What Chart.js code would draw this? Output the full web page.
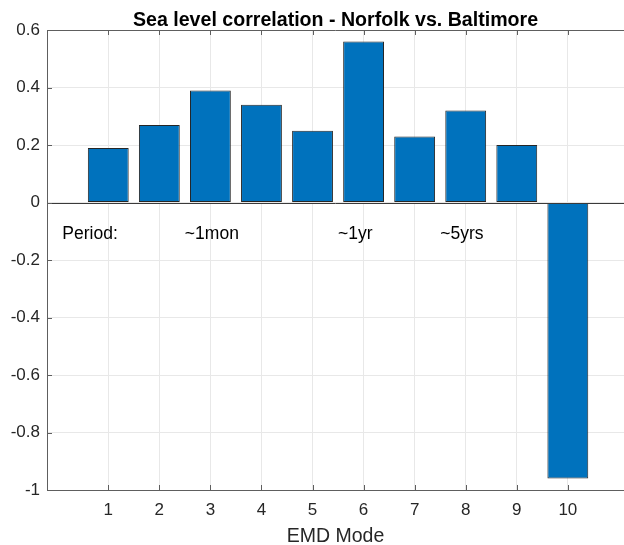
<!DOCTYPE html>
<html>
<head>
<meta charset="utf-8">
<script src="https://cdn.jsdelivr.net/npm/chart.js@4.4.1/dist/chart.umd.min.js"></script>
<style>
  html, body { margin: 0; padding: 0; background: #ffffff; }
  #wrap { width: 624px; height: 545px; }
</style>
</head>
<body>
<div id="wrap"><canvas id="c" width="624" height="545"></canvas></div>
<script>
// ---- data ----
const modes = [1, 2, 3, 4, 5, 6, 7, 8, 9, 10];
const correlation = [0.19, 0.27, 0.39, 0.34, 0.25, 0.56, 0.23, 0.32, 0.20, -0.96];
const xTicks = [1, 2, 3, 4, 5, 6, 7, 8, 9, 10];
const yTicks = [-1, -0.8, -0.6, -0.4, -0.2, 0, 0.2, 0.4, 0.6];
const yTickLabels = ['-1', '-0.8', '-0.6', '-0.4', '-0.2', '0', '0.2', '0.4', '0.6'];
const noteLabels = ['Period:', '~1mon', '~1yr', '~5yrs'];
const noteX = [0.1, 2.5, 5.5, 7.5];
const noteY = [-0.11, -0.11, -0.11, -0.11];

const titleText = 'Sea level correlation - Norfolk vs. Baltimore';
const xTitle = 'EMD Mode';
const FONT = "'Liberation Sans', Arial, Helvetica, sans-serif";
const AX = '#5e5e5e';
const TXT = '#262626';

const points = modes.map((m, i) => ({ x: m, y: correlation[i] }));

// frame (top border), inward tick marks, zero baseline, title and text notes
const extras = {
  id: 'extras',
  afterDatasetsDraw(chart) {
    const ctx = chart.ctx;
    const a = chart.chartArea;
    const xs = chart.scales.x, ys = chart.scales.y;
    ctx.save();
    // baseline at 0
    ctx.strokeStyle = '#3a3a3a';
    ctx.lineWidth = 1;
    const y0 = Math.round(ys.getPixelForValue(0)) + 0.5;
    ctx.beginPath(); ctx.moveTo(a.left, y0); ctx.lineTo(a.right, y0); ctx.stroke();
    // top frame line
    ctx.strokeStyle = AX;
    const yt = Math.round(a.top) + 0.5;
    ctx.beginPath(); ctx.moveTo(a.left, yt); ctx.lineTo(a.right, yt); ctx.stroke();
    // inward ticks
    const tl = 5;
    xTicks.forEach(v => {
      const px = Math.round(xs.getPixelForValue(v)) + 0.5;
      ctx.beginPath();
      ctx.moveTo(px, a.bottom); ctx.lineTo(px, a.bottom - tl);
      ctx.moveTo(px, a.top); ctx.lineTo(px, a.top + tl);
      ctx.stroke();
    });
    yTicks.forEach(v => {
      const py = Math.round(ys.getPixelForValue(v)) + 0.5;
      ctx.beginPath();
      ctx.moveTo(a.left, py); ctx.lineTo(a.left + tl, py);
      ctx.stroke();
    });
    // notes
    ctx.fillStyle = '#000000';
    ctx.font = '17.5px ' + FONT;
    ctx.textAlign = 'left';
    ctx.textBaseline = 'middle';
    noteLabels.forEach((t, i) => {
      ctx.fillText(t, xs.getPixelForValue(noteX[i]), ys.getPixelForValue(noteY[i]));
    });
    // title centred over the plot area
    ctx.font = 'bold 19.6px ' + FONT;
    ctx.textAlign = 'center';
    ctx.textBaseline = 'alphabetic';
    ctx.fillText(titleText, (a.left + a.right) / 2, a.top - 4.5);
    ctx.restore();
  }
};

new Chart(document.getElementById('c'), {
  type: 'bar',
  data: {
    datasets: [{
      data: points,
      backgroundColor: '#0072BD',
      borderColor: '#262626',
      borderWidth: 1,
      borderSkipped: false,
      barPercentage: 0.8,
      categoryPercentage: 1.0
    }]
  },
  options: {
    responsive: false,
    animation: false,
    devicePixelRatio: 1,
    layout: { padding: { left: 0, right: 0, top: 30, bottom: 0 } },
    plugins: {
      legend: { display: false },
      tooltip: { enabled: false },
      title: { display: false }
    },
    scales: {
      x: {
        type: 'linear',
        min: -0.2,
        max: 11.1,
        offset: false,
        afterBuildTicks(scale) { scale.ticks = xTicks.map(v => ({ value: v })); },
        afterFit(scale) { scale.height = 55; },
        ticks: {
          color: TXT,
          font: { family: FONT, size: 17 },
          padding: 10,
          maxRotation: 0,
          autoSkip: false,
          callback: (v) => String(v)
        },
        grid: { color: '#e8e8e8', lineWidth: 1, drawTicks: false, offset: false },
        border: { display: true, color: AX, width: 1 },
        title: {
          display: true,
          text: xTitle,
          color: TXT,
          font: { family: FONT, size: 19.5, lineHeight: 0.8 },
          padding: { top: 0, bottom: 1 }
        }
      },
      y: {
        min: -1,
        max: 0.6,
        afterBuildTicks(scale) { scale.ticks = yTicks.map(v => ({ value: v })); },
        afterFit(scale) { scale.width = 47; },
        ticks: {
          color: TXT,
          font: { family: FONT, size: 17 },
          padding: 7,
          autoSkip: false,
          callback: (v) => { const i = yTicks.indexOf(v); return i >= 0 ? yTickLabels[i] : ''; }
        },
        grid: { color: '#e8e8e8', lineWidth: 1, drawTicks: false },
        border: { display: true, color: AX, width: 1 }
      }
    }
  },
  plugins: [extras]
});
</script>
</body>
</html>
